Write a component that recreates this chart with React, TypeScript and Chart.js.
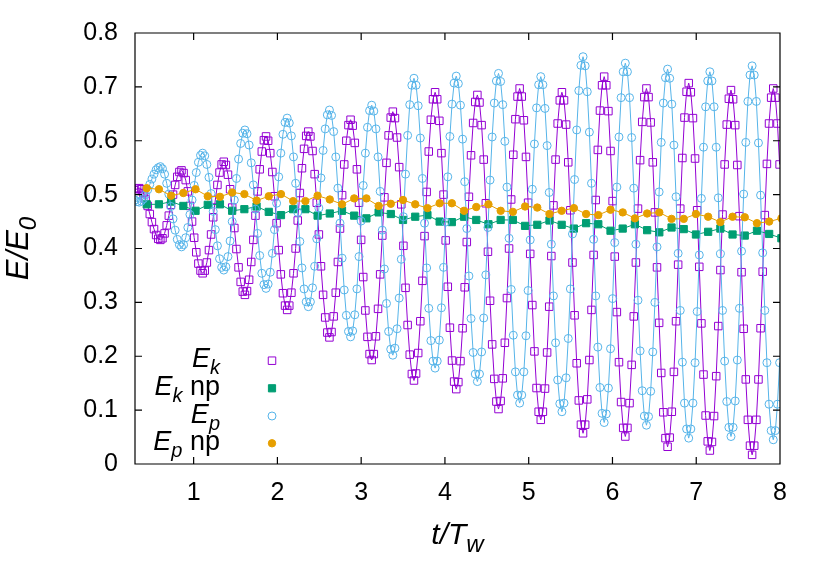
import { useEffect, useRef } from 'react'
import { Chart, registerables } from 'chart.js'

Chart.register(...registerables)

const FONT = '"Liberation Sans", Arial, Helvetica, sans-serif'

// dense sampling of the two oscillating runs, t/T_w
const waveT0 = 0.3
const waveDt = 0.02523

const ekValues = [
  0.508, 0.511, 0.512,
  0.510, 0.503, 0.492, 0.479, 0.464, 0.449, 0.436, 0.425, 0.418, 0.416,
  0.419, 0.428, 0.443, 0.461, 0.481, 0.500, 0.518, 0.533, 0.542, 0.545,
  0.540, 0.527, 0.506, 0.479, 0.450, 0.420, 0.393, 0.372, 0.359, 0.354,
  0.359, 0.374, 0.397, 0.426, 0.458, 0.490, 0.518, 0.541, 0.556, 0.561,
  0.555, 0.537, 0.510, 0.476, 0.438, 0.399, 0.365, 0.338, 0.320, 0.314,
  0.321, 0.342, 0.375, 0.416, 0.461, 0.506, 0.547, 0.580, 0.601, 0.608,
  0.600, 0.577, 0.542, 0.497, 0.447, 0.397, 0.352, 0.317, 0.294, 0.286,
  0.294, 0.318, 0.354, 0.400, 0.452, 0.503, 0.549, 0.585, 0.609, 0.617,
  0.608, 0.581, 0.538, 0.485, 0.426, 0.367, 0.314, 0.272, 0.244, 0.235,
  0.245, 0.274, 0.318, 0.375, 0.437, 0.499, 0.556, 0.600, 0.629, 0.639,
  0.628, 0.596, 0.547, 0.485, 0.416, 0.347, 0.285, 0.236, 0.204, 0.193,
  0.204, 0.237, 0.288, 0.352, 0.424, 0.495, 0.559, 0.610, 0.643, 0.654,
  0.642, 0.606, 0.551, 0.482, 0.405, 0.327, 0.258, 0.203, 0.167, 0.155,
  0.168, 0.206, 0.265, 0.340, 0.423, 0.505, 0.580, 0.639, 0.677, 0.690,
  0.677, 0.637, 0.577, 0.500, 0.415, 0.329, 0.253, 0.192, 0.153, 0.139,
  0.152, 0.191, 0.252, 0.328, 0.412, 0.496, 0.573, 0.633, 0.672, 0.685,
  0.671, 0.629, 0.565, 0.484, 0.394, 0.303, 0.222, 0.158, 0.116, 0.102,
  0.117, 0.159, 0.225, 0.308, 0.400, 0.491, 0.574, 0.640, 0.682, 0.697,
  0.682, 0.638, 0.570, 0.485, 0.390, 0.295, 0.209, 0.141, 0.097, 0.082,
  0.097, 0.140, 0.207, 0.292, 0.386, 0.480, 0.565, 0.632, 0.675, 0.690,
  0.675, 0.630, 0.560, 0.471, 0.374, 0.276, 0.187, 0.118, 0.073, 0.057,
  0.073, 0.120, 0.193, 0.286, 0.388, 0.490, 0.583, 0.656, 0.703, 0.719,
  0.703, 0.655, 0.581, 0.488, 0.385, 0.282, 0.189, 0.115, 0.067, 0.051,
  0.067, 0.113, 0.184, 0.274, 0.374, 0.474, 0.564, 0.635, 0.681, 0.697,
  0.681, 0.634, 0.560, 0.467, 0.365, 0.262, 0.169, 0.096, 0.048, 0.032,
  0.049, 0.097, 0.171, 0.265, 0.370, 0.474, 0.568, 0.643, 0.691, 0.707,
  0.690, 0.642, 0.567, 0.471, 0.366, 0.261, 0.166, 0.090, 0.042, 0.025,
  0.041, 0.089, 0.163, 0.256, 0.360, 0.463, 0.556, 0.630, 0.678, 0.694,
  0.677, 0.629, 0.555, 0.460, 0.356, 0.251, 0.157, 0.082, 0.034, 0.017,
  0.034, 0.082, 0.157, 0.252, 0.357, 0.462, 0.557, 0.632, 0.680, 0.697,
  0.680, 0.632, 0.556,
]

const epValues = [
  0.490, 0.487, 0.486,
  0.488, 0.492, 0.500, 0.509, 0.519, 0.529, 0.538, 0.546, 0.550, 0.552,
  0.548, 0.538, 0.521, 0.501, 0.478, 0.455, 0.434, 0.417, 0.407, 0.403,
  0.407, 0.420, 0.439, 0.463, 0.490, 0.517, 0.541, 0.560, 0.573, 0.577,
  0.572, 0.556, 0.532, 0.502, 0.469, 0.435, 0.405, 0.381, 0.365, 0.360,
  0.366, 0.385, 0.414, 0.450, 0.490, 0.530, 0.566, 0.595, 0.614, 0.620,
  0.613, 0.592, 0.559, 0.518, 0.473, 0.428, 0.387, 0.354, 0.333, 0.326,
  0.334, 0.356, 0.391, 0.435, 0.484, 0.533, 0.577, 0.612, 0.634, 0.642,
  0.633, 0.609, 0.570, 0.521, 0.467, 0.413, 0.364, 0.325, 0.301, 0.292,
  0.301, 0.327, 0.367, 0.418, 0.475, 0.531, 0.582, 0.622, 0.648, 0.657,
  0.647, 0.617, 0.570, 0.512, 0.447, 0.382, 0.323, 0.276, 0.246, 0.236,
  0.247, 0.277, 0.325, 0.385, 0.451, 0.517, 0.577, 0.625, 0.656, 0.666,
  0.655, 0.622, 0.570, 0.506, 0.434, 0.362, 0.298, 0.246, 0.213, 0.202,
  0.215, 0.251, 0.308, 0.380, 0.459, 0.538, 0.610, 0.667, 0.703, 0.716,
  0.703, 0.665, 0.605, 0.530, 0.447, 0.364, 0.289, 0.229, 0.191, 0.178,
  0.191, 0.230, 0.290, 0.365, 0.449, 0.533, 0.608, 0.668, 0.707, 0.720,
  0.706, 0.666, 0.603, 0.524, 0.437, 0.349, 0.270, 0.207, 0.167, 0.153,
  0.167, 0.208, 0.271, 0.351, 0.439, 0.527, 0.607, 0.670, 0.711, 0.725,
  0.710, 0.667, 0.599, 0.514, 0.419, 0.324, 0.239, 0.171, 0.128, 0.113,
  0.128, 0.171, 0.238, 0.322, 0.416, 0.510, 0.594, 0.661, 0.704, 0.719,
  0.704, 0.660, 0.591, 0.504, 0.408, 0.312, 0.225, 0.156, 0.112, 0.097,
  0.113, 0.160, 0.233, 0.325, 0.427, 0.528, 0.620, 0.693, 0.740, 0.756,
  0.739, 0.691, 0.616, 0.521, 0.417, 0.312, 0.217, 0.142, 0.094, 0.077,
  0.093, 0.141, 0.214, 0.307, 0.411, 0.514, 0.607, 0.680, 0.728, 0.744,
  0.728, 0.680, 0.606, 0.512, 0.408, 0.304, 0.210, 0.136, 0.089, 0.072,
  0.088, 0.135, 0.208, 0.300, 0.403, 0.505, 0.597, 0.670, 0.717, 0.733,
  0.716, 0.668, 0.592, 0.496, 0.391, 0.285, 0.189, 0.113, 0.065, 0.048,
  0.065, 0.113, 0.188, 0.283, 0.388, 0.493, 0.588, 0.663, 0.711, 0.728,
  0.711, 0.663, 0.588, 0.494, 0.390, 0.285, 0.191, 0.116, 0.068, 0.051,
  0.068, 0.117, 0.193, 0.289, 0.395, 0.501, 0.597, 0.673, 0.722, 0.739,
  0.722, 0.673, 0.596, 0.499, 0.392, 0.285, 0.188, 0.111, 0.062, 0.045,
  0.062, 0.111, 0.188,
]

// coarser sampling of the "np" runs
const npT0 = 0.44
const npDt = 0.1457

const ekNpValues = [
  0.482, 0.482, 0.487, 0.479, 0.470, 0.481, 0.482, 0.470, 0.473, 0.478,
  0.468, 0.462, 0.473, 0.473, 0.461, 0.465, 0.470, 0.461, 0.456, 0.467,
  0.464, 0.453, 0.459, 0.462, 0.450, 0.449, 0.459, 0.453, 0.445, 0.453,
  0.453, 0.442, 0.444, 0.452, 0.444, 0.437, 0.447, 0.445, 0.433, 0.437,
  0.445, 0.434, 0.430, 0.439, 0.436, 0.426, 0.431, 0.437, 0.426, 0.424,
  0.433, 0.427, 0.419,
]

const epNpValues = [
  0.512, 0.510, 0.498, 0.503, 0.510, 0.497, 0.496, 0.504, 0.501, 0.489,
  0.497, 0.501, 0.488, 0.488, 0.498, 0.491, 0.482, 0.493, 0.493, 0.479,
  0.483, 0.490, 0.482, 0.475, 0.484, 0.484, 0.470, 0.477, 0.482, 0.470,
  0.468, 0.478, 0.476, 0.464, 0.470, 0.475, 0.464, 0.462, 0.472, 0.467,
  0.456, 0.465, 0.467, 0.455, 0.455, 0.464, 0.459, 0.449, 0.459, 0.458,
  0.447, 0.450, 0.456,
]

const xTicks = [1, 2, 3, 4, 5, 6, 7, 8]
const yTicks = [0, 0.1, 0.2, 0.3, 0.4, 0.5, 0.6, 0.7, 0.8]

const COLORS = {
  ek: '#9400d3',
  ekNp: '#009e73',
  ep: '#56b4e9',
  epNp: '#e69f00',
}

type Piece = { text: string; size: number; italic?: boolean; dy?: number }

const legendRows: { pieces: Piece[]; color: string; shape: 'rect' | 'circle'; filled: boolean }[] = [
  {
    pieces: [
      { text: 'E', size: 27, italic: true },
      { text: 'k', size: 20, italic: true, dy: 7 },
    ],
    color: COLORS.ek,
    shape: 'rect',
    filled: false,
  },
  {
    pieces: [
      { text: 'E', size: 27, italic: true },
      { text: 'k', size: 20, italic: true, dy: 7 },
      { text: ' np', size: 27 },
    ],
    color: COLORS.ekNp,
    shape: 'rect',
    filled: true,
  },
  {
    pieces: [
      { text: 'E', size: 27, italic: true },
      { text: 'p', size: 20, italic: true, dy: 7 },
    ],
    color: COLORS.ep,
    shape: 'circle',
    filled: false,
  },
  {
    pieces: [
      { text: 'E', size: 27, italic: true },
      { text: 'p', size: 20, italic: true, dy: 7 },
      { text: ' np', size: 27 },
    ],
    color: COLORS.epNp,
    shape: 'circle',
    filled: true,
  },
]

const xTitle: Piece[] = [
  { text: 't/T', size: 30, italic: true },
  { text: 'w', size: 24, italic: true, dy: 8 },
]
const yTitle: Piece[] = [
  { text: 'E/E', size: 31, italic: true },
  { text: '0', size: 24, italic: true, dy: 8 },
]

const toPoints = (t0: number, dt: number, ys: number[]) =>
  ys.map((y, i) => ({ x: t0 + i * dt, y }))

function drawRich(
  ctx: CanvasRenderingContext2D,
  pieces: Piece[],
  x: number,
  y: number,
  align: 'center' | 'right'
) {
  const fontOf = (p: Piece) => `${p.italic ? 'italic ' : ''}${p.size}px ${FONT}`
  let total = 0
  const widths = pieces.map((p) => {
    ctx.font = fontOf(p)
    const w = ctx.measureText(p.text).width
    total += w
    return w
  })
  let cx = align === 'center' ? x - total / 2 : x - total
  ctx.textAlign = 'left'
  ctx.textBaseline = 'alphabetic'
  pieces.forEach((p, i) => {
    ctx.font = fontOf(p)
    ctx.fillText(p.text, cx, y + (p.dy ?? 0))
    cx += widths[i]
  })
}

// gnuplot style frame: box, inward ticks on all sides, legend and titles
const framePlugin = {
  id: 'frame',
  afterDatasetsDraw(chart: Chart) {
    const { ctx, chartArea: a, scales } = chart
    ctx.save()
    ctx.strokeStyle = '#000'
    ctx.lineWidth = 1.2
    ctx.beginPath()
    ctx.rect(a.left, a.top, a.right - a.left, a.bottom - a.top)
    const tl = 7
    xTicks.forEach((v) => {
      const px = scales.x.getPixelForValue(v)
      ctx.moveTo(px, a.bottom)
      ctx.lineTo(px, a.bottom - tl)
      ctx.moveTo(px, a.top)
      ctx.lineTo(px, a.top + tl)
    })
    yTicks.forEach((v) => {
      const py = scales.y.getPixelForValue(v)
      ctx.moveTo(a.left, py)
      ctx.lineTo(a.left + tl, py)
      ctx.moveTo(a.right, py)
      ctx.lineTo(a.right - tl, py)
    })
    ctx.stroke()

    // legend
    ctx.fillStyle = '#000'
    const markerX = 272
    const rowY = [360.7, 388.3, 416, 443.3]
    legendRows.forEach((row, i) => {
      const my = rowY[i]
      drawRich(ctx, row.pieces, 220, my + 6.5, 'right')
      ctx.save()
      ctx.lineWidth = 1
      ctx.strokeStyle = row.color
      ctx.fillStyle = row.color
      ctx.beginPath()
      if (row.shape === 'rect') {
        const s = row.filled ? 3.6 : 3.75
        ctx.rect(markerX - s, my - s, 2 * s, 2 * s)
      } else {
        ctx.arc(markerX, my, row.filled ? 3.7 : 4, 0, Math.PI * 2)
      }
      if (row.filled) ctx.fill()
      ctx.stroke()
      ctx.restore()
    })

    // axis titles
    ctx.fillStyle = '#000'
    drawRich(ctx, xTitle, (a.left + a.right) / 2, 544, 'center')
    ctx.save()
    ctx.translate(28, (a.top + a.bottom) / 2)
    ctx.rotate(-Math.PI / 2)
    drawRich(ctx, yTitle, 0, 0, 'center')
    ctx.restore()
    ctx.restore()
  },
}

export default function App() {
  const canvasRef = useRef<HTMLCanvasElement>(null)
  const chartRef = useRef<Chart | null>(null)

  useEffect(() => {
    if (!canvasRef.current) return
    if (chartRef.current) chartRef.current.destroy()

    const ctx = canvasRef.current.getContext('2d')
    if (!ctx) return

    chartRef.current = new Chart(ctx, {
      type: 'line',
      data: {
        datasets: [
          {
            label: 'E_k',
            data: toPoints(waveT0, waveDt, ekValues),
            borderColor: COLORS.ek,
            borderWidth: 1,
            pointStyle: 'rect',
            pointRadius: 5.3,
            pointBorderWidth: 1,
            pointBorderColor: COLORS.ek,
            pointBackgroundColor: 'rgba(0,0,0,0)',
            order: 4,
          },
          {
            label: 'E_k np',
            data: toPoints(npT0, npDt, ekNpValues),
            borderColor: COLORS.ekNp,
            borderWidth: 1,
            pointStyle: 'rect',
            pointRadius: 5.1,
            pointBorderWidth: 1,
            pointBorderColor: COLORS.ekNp,
            pointBackgroundColor: COLORS.ekNp,
            order: 3,
          },
          {
            label: 'E_p',
            data: toPoints(waveT0, waveDt, epValues),
            borderColor: COLORS.ep,
            borderWidth: 1,
            pointStyle: 'circle',
            pointRadius: 4,
            pointBorderWidth: 1,
            pointBorderColor: COLORS.ep,
            pointBackgroundColor: 'rgba(0,0,0,0)',
            order: 2,
          },
          {
            label: 'E_p np',
            data: toPoints(npT0, npDt, epNpValues),
            borderColor: COLORS.epNp,
            borderWidth: 1,
            pointStyle: 'circle',
            pointRadius: 3.7,
            pointBorderWidth: 1,
            pointBorderColor: COLORS.epNp,
            pointBackgroundColor: COLORS.epNp,
            order: 1,
          },
        ],
      },
      options: {
        responsive: true,
        maintainAspectRatio: false,
        animation: false,
        events: [],
        layout: { padding: { left: 0, right: 50, top: 33, bottom: 0 } },
        plugins: {
          legend: { display: false },
          title: { display: false },
          tooltip: { enabled: false },
        },
        scales: {
          x: {
            type: 'linear',
            min: 0.3,
            max: 8,
            grid: { display: false, drawTicks: false },
            border: { display: false },
            afterBuildTicks: (scale: any) => {
              scale.ticks = xTicks.map((v) => ({ value: v }))
            },
            afterFit: (scale: any) => {
              scale.height = 117
            },
            ticks: {
              padding: 14,
              color: '#000',
              maxRotation: 0,
              autoSkip: false,
              font: { size: 25, family: FONT },
              callback: (v: any) => String(v),
            },
          },
          y: {
            type: 'linear',
            min: 0,
            max: 0.8,
            grid: { display: false, drawTicks: false },
            border: { display: false },
            afterBuildTicks: (scale: any) => {
              scale.ticks = yTicks.map((v) => ({ value: v }))
            },
            afterFit: (scale: any) => {
              scale.width = 135
            },
            ticks: {
              padding: 17,
              color: '#000',
              autoSkip: false,
              font: { size: 25, family: FONT },
              callback: (v: any) => (Number(v) === 0 ? '0' : Number(v).toFixed(1)),
            },
          },
        },
      },
      plugins: [framePlugin],
    })

    return () => {
      if (chartRef.current) {
        chartRef.current.destroy()
        chartRef.current = null
      }
    }
  }, [])

  return (
    <div
      style={{
        position: 'fixed',
        left: 0,
        top: 0,
        width: '830px',
        height: '581px',
        background: '#fff',
      }}
    >
      <canvas ref={canvasRef}></canvas>
    </div>
  )
}
